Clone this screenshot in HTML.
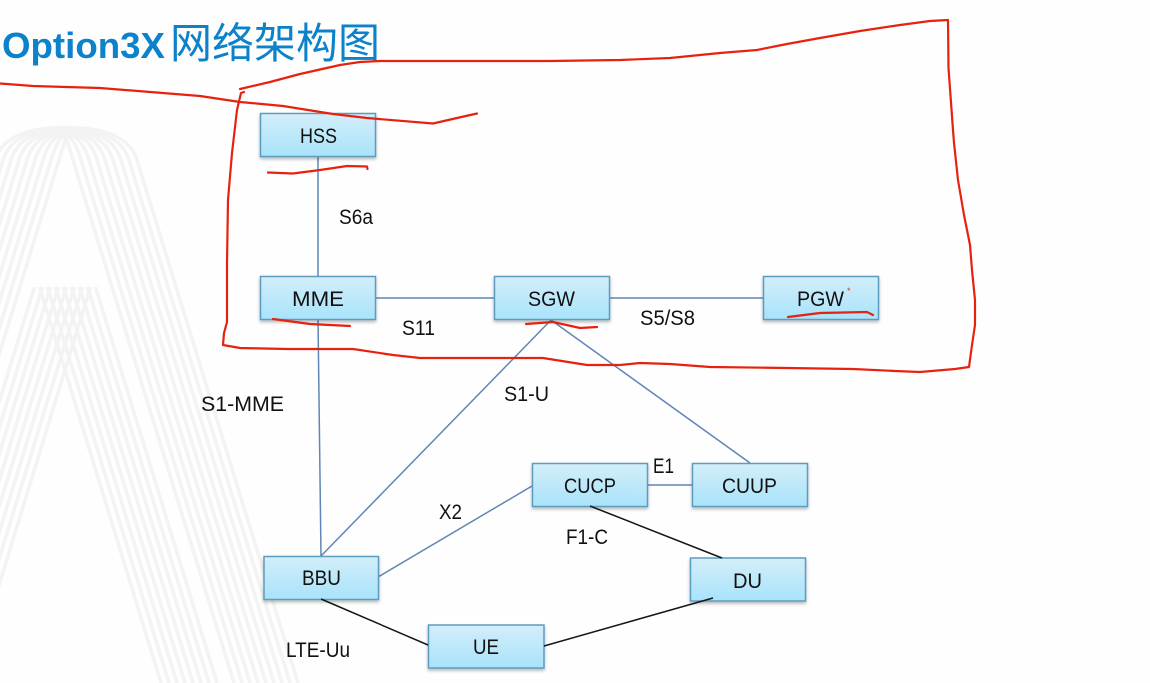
<!DOCTYPE html>
<html lang="zh">
<head>
<meta charset="utf-8">
<title>Option3X网络架构图</title>
<style>
html,body{margin:0;padding:0;background:#fefefe;}
svg{display:block;filter:blur(0.35px);}
.t{font-family:"Liberation Sans","Noto Sans CJK SC",sans-serif;font-size:21px;fill:#111;}
.bg path{fill:none;stroke:#f3f3f3;stroke-width:3.5;}
.blue{stroke:#5f86b6;stroke-width:1.5;fill:none;}
.blk{stroke:#161616;stroke-width:1.5;fill:none;}
.red{stroke:#e6220f;stroke-width:2.2;fill:none;stroke-linejoin:round;stroke-linecap:round;}
.box{fill:url(#g);stroke:#5c9dbf;stroke-width:1.5;filter:url(#s);}
</style>
</head>
<body>
<svg width="1150" height="683" viewBox="0 0 1150 683" xmlns="http://www.w3.org/2000/svg">
<defs>
<linearGradient id="g" x1="0" y1="0" x2="0" y2="1">
<stop offset="0" stop-color="#d3eef9"/><stop offset="1" stop-color="#a8e3fb"/>
</linearGradient>
<filter id="s" x="-10%" y="-20%" width="120%" height="150%">
<feDropShadow dx="0" dy="2" stdDeviation="1.5" flood-color="#000" flood-opacity="0.28"/>
</filter>
</defs>
<rect width="1150" height="683" fill="#fefefe"/>

<g class="bg">
<path d="M-102 683L59 160Q66 137 66 137Q66 137 73 160L234 683"/>
<path d="M-110 683L51 160Q58.4 135.8 66 135.8Q73.6 135.8 81 160L242 683"/>
<path d="M-118 683L43 160Q50.8 134.6 66 134.6Q81.2 134.6 89 160L250 683"/>
<path d="M-126 683L35 160Q43.2 133.4 66 133.4Q88.8 133.4 97 160L258 683"/>
<path d="M-134 683L27 160Q35.5 132.2 66 132.2Q96.5 132.2 105 160L266 683"/>
<path d="M-142 683L19 160Q27.9 131 66 131Q104.1 131 113 160L274 683"/>
<path d="M-150 683L11 160Q20.3 129.8 66 129.8Q111.7 129.8 121 160L282 683"/>
<path d="M-158 683L3 160Q12.6 128.6 66 128.6Q119.4 128.6 129 160L290 683"/>
<path d="M-166 683L-5 160Q5 127.4 66 127.4Q127 127.4 137 160L298 683"/>

<path d="M39.5 287L161 683"/><path d="M47.5 287L169 683"/><path d="M55.5 287L177 683"/><path d="M63.5 287L185 683"/>
<path d="M71.5 287L193 683"/><path d="M79.5 287L201 683"/><path d="M87.5 287L209 683"/><path d="M95.5 287L217 683"/>
<path d="M90.5 287L-31 683"/><path d="M82.5 287L-39 683"/><path d="M74.5 287L-47 683"/><path d="M66.5 287L-55 683"/>
<path d="M58.5 287L-63 683"/><path d="M50.5 287L-71 683"/><path d="M42.5 287L-79 683"/><path d="M34.5 287L-87 683"/>
</g>

<text x="2" y="58" font-family="'Liberation Sans',sans-serif" font-size="36" font-weight="700" fill="#0b82c9" textLength="163" lengthAdjust="spacingAndGlyphs">Option3X</text>
<text x="170" y="58" font-family="'Noto Sans CJK SC','WenQuanYi Zen Hei',sans-serif" font-size="42" font-weight="400" fill="#0b82c9" textLength="210" lengthAdjust="spacingAndGlyphs">网络架构图</text>

<!-- blue connectors -->
<path class="blue" d="M318 156V276"/>
<path class="blue" d="M318 319L321 556"/>
<path class="blue" d="M375 298H494"/>
<path class="blue" d="M609 298H763"/>
<path class="blue" d="M551 320L321 556"/>
<path class="blue" d="M551 320L750 463"/>
<path class="blue" d="M647 485H692"/>
<path class="blue" d="M378 577L532 486"/>

<!-- nodes -->
<rect class="box" x="260.5" y="113.5" width="115" height="43"/>
<rect class="box" x="260.5" y="276.5" width="115" height="43"/>
<rect class="box" x="494.5" y="276.5" width="115" height="43"/>
<rect class="box" x="763.5" y="276.5" width="115" height="43"/>
<rect class="box" x="532.5" y="463.5" width="115" height="43"/>
<rect class="box" x="692.5" y="463.5" width="115" height="43"/>
<rect class="box" x="264" y="556.5" width="114.5" height="43"/>
<rect class="box" x="690.5" y="558" width="115" height="43"/>
<rect class="box" x="428.5" y="625" width="115.5" height="43"/>

<!-- black connectors -->
<path class="blk" d="M321 599L428 645"/>
<path class="blk" d="M544 646L713 598"/>
<path class="blk" d="M590 506L722 558"/>

<!-- node labels -->
<text class="t" x="300" y="143" textLength="37" lengthAdjust="spacingAndGlyphs">HSS</text>
<text class="t" x="292" y="306" textLength="52" lengthAdjust="spacingAndGlyphs">MME</text>
<text class="t" x="528" y="306" textLength="47" lengthAdjust="spacingAndGlyphs">SGW</text>
<text class="t" x="797" y="306" textLength="47" lengthAdjust="spacingAndGlyphs">PGW</text>
<text class="t" x="564" y="493" textLength="52" lengthAdjust="spacingAndGlyphs">CUCP</text>
<text class="t" x="722" y="493" textLength="55" lengthAdjust="spacingAndGlyphs">CUUP</text>
<text class="t" x="302" y="585" textLength="39" lengthAdjust="spacingAndGlyphs">BBU</text>
<text class="t" x="733" y="588" textLength="29" lengthAdjust="spacingAndGlyphs">DU</text>
<text class="t" x="473" y="654" textLength="26" lengthAdjust="spacingAndGlyphs">UE</text>

<!-- connector labels -->
<text class="t" x="339" y="224" textLength="34" lengthAdjust="spacingAndGlyphs">S6a</text>
<text class="t" x="402" y="335" textLength="33" lengthAdjust="spacingAndGlyphs">S11</text>
<text class="t" x="640" y="325" textLength="55" lengthAdjust="spacingAndGlyphs">S5/S8</text>
<text class="t" x="201" y="411" textLength="83" lengthAdjust="spacingAndGlyphs">S1-MME</text>
<text class="t" x="504" y="401" textLength="45" lengthAdjust="spacingAndGlyphs">S1-U</text>
<text class="t" x="653" y="473" textLength="21" lengthAdjust="spacingAndGlyphs">E1</text>
<text class="t" x="439" y="519" textLength="23" lengthAdjust="spacingAndGlyphs">X2</text>
<text class="t" x="566" y="544" textLength="42" lengthAdjust="spacingAndGlyphs">F1-C</text>
<text class="t" x="286" y="657" textLength="64" lengthAdjust="spacingAndGlyphs">LTE-Uu</text>

<!-- red annotations -->
<path class="red" d="M240 89L270 82L300 74L340 65L360 62L380 61L455 61L550 61L620 60L670 58L720 53L757 50L787 44L820 38L860 31L900 25L930 21L948 20L948.5 68L953 130L954 143L958 180L964 215L970 245L972 270L975 300L975 325L972 345L969 367L955 369L920 372L895 371L853 369L787 368L710 367L670 364L640 363L620 365L587 365L543 358L420 358L393 355L353 349L287 349L240 348L223 345L224 333L227 322L227 263L228 200L232 153L237 110L241 93L244 92"/>
<path class="red" d="M0 83.5L33 86L100 88L200 96L240 102L283 106L333 114L367 118L433 123.5L457 118L477 113.5"/>
<path class="red" d="M268 172.5L293 173.5L320 170L347 166L367 166.5L367.5 169"/>
<path class="red" d="M273 319L310 324L350 326"/>
<path class="red" d="M526 324L553 322L580 328L597 327"/>
<path class="red" d="M788 317L820 313L867 312L873 315"/>
<text x="847" y="294" font-family="'Liberation Sans',sans-serif" font-size="9" fill="#d8382a">*</text>
</svg>
</body>
</html>
